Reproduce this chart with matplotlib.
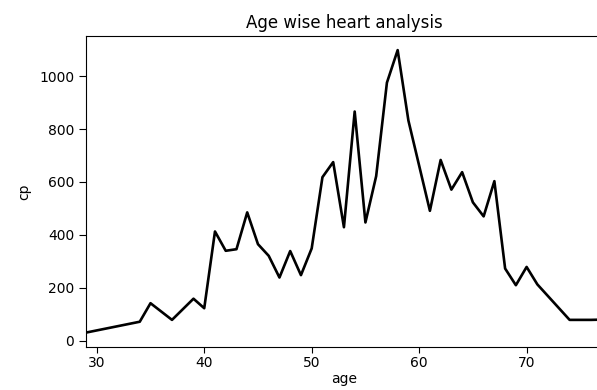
import matplotlib
matplotlib.use("Agg")
import matplotlib.pyplot as plt

ages = [29, 34, 35, 37, 39, 40, 41, 42, 43, 44, 45, 46, 47, 48, 49, 50, 51, 52,
        53, 54, 55, 56, 57, 58, 59, 61, 62, 63, 64, 65, 66, 67, 68, 69, 70, 71,
        74, 76, 77]
cp = [31, 72, 142, 79, 159, 123, 413, 340, 346, 485, 365, 321, 239, 339, 248, 349, 618, 675,
      429, 866, 447, 622, 975, 1098, 832, 491, 683, 571, 637, 523, 470, 603, 273, 210, 279, 213,
      79, 79, 80]

title = "Age wise heart analysis"
xlabel = "age"
ylabel = "cp"

fig = plt.figure(figsize=(5.97, 3.90), dpi=100)
ax = fig.add_axes([0.1441, 0.111, 0.864, 0.7967])
ax.plot(ages, cp, color="black", linewidth=1.9)
ax.set_xlim(min(ages), max(ages))
ax.tick_params(axis="y", length=5)
ax.tick_params(axis="x", length=4, pad=3)
ax.set_title(title)
ax.set_xlabel(xlabel, labelpad=1)
ax.set_ylabel(ylabel, labelpad=6)
fig.savefig("out.png", dpi=100)
